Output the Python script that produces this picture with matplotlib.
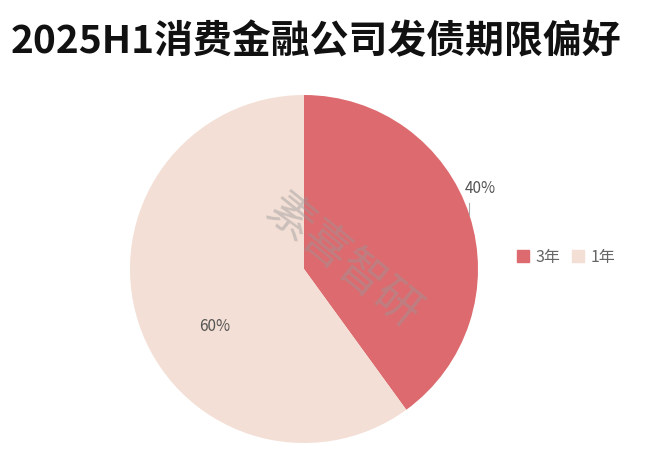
import matplotlib
matplotlib.use("Agg")
import matplotlib.pyplot as plt
import numpy as np

plt.rcParams['font.family'] = ['Noto Sans CJK SC', 'DejaVu Sans']

title = "2025H1消费金融公司发债期限偏好"
categories = ["3年", "1年"]
values = [40, 60]
colors = ["#dd6a6e", "#f3dfd5"]
watermark = "素喜智研"

fig = plt.figure(figsize=(6.55, 4.62), dpi=100)
fig.patch.set_facecolor("white")

fig.text(0.017, 0.91, title, fontsize=28, fontweight='bold', color='#111111',
         ha='left', va='center')

ax = fig.add_axes([(304 - 174) / 655, (462 - 443) / 462, 348 / 655, 348 / 462])
wedges, _ = ax.pie(values, colors=colors, startangle=90, counterclock=False,
                   radius=1, wedgeprops=dict(linewidth=0))
ax.set_xlim(-1, 1)
ax.set_ylim(-1, 1)
ax.set_aspect('equal')
ax.axis('off')

# labels
total = sum(values)
w0 = wedges[0]
mid0 = np.deg2rad((w0.theta1 + w0.theta2) / 2)
x0, y0 = np.cos(mid0), np.sin(mid0)
ax.plot([x0, x0], [y0, y0 + 0.07], color='#aaaaaa', lw=0.8, clip_on=False)
ax.text(x0 - 0.03, y0 + 0.155, f"{values[0] / total * 100:.0f}%", fontsize=11,
        color='#555555', ha='left', va='center', clip_on=False)

ax.text(-0.515, -0.333, f"{values[1] / total * 100:.0f}%", fontsize=11,
        color='#555555', ha='center', va='center')

# legend
handles = [plt.Rectangle((0, 0), 1, 1, color=c) for c in colors]
fig.legend(handles, categories, loc='center left', bbox_to_anchor=(0.768, 0.443),
           ncol=2, frameon=False, fontsize=11.5, handlelength=0.75, handleheight=0.75,
           handletextpad=0.4, columnspacing=0.7, labelcolor='#666666')

fig.text(343 / 655, 1 - 262 / 462, watermark, fontsize=33, color='#999999', alpha=0.45,
         rotation=-39, ha='center', va='center', rotation_mode='anchor')

fig.savefig("out.png", dpi=100, facecolor='white')
